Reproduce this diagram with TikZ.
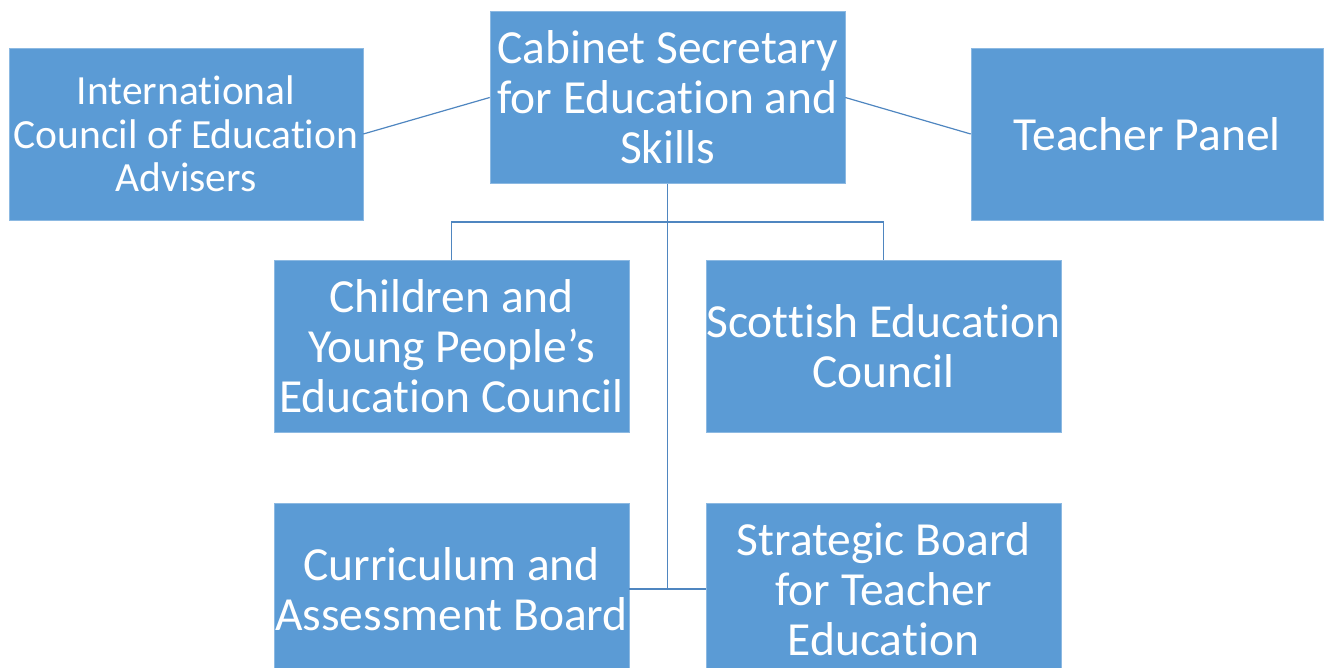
\documentclass[tikz,border=0pt]{standalone}
\usepackage{fontspec}
\setmainfont[Ligatures={NoCommon}]{Carlito}
\definecolor{boxblue}{HTML}{5B9BD5}
\definecolor{linkblue}{HTML}{4F86C0}
\begin{document}
\begin{tikzpicture}[x=1pt,y=-1pt,
  orgbox/.style={fill=boxblue, draw=boxblue!70!white, line width=0.6pt,
    minimum width=355pt, minimum height=172pt, inner sep=0pt,
    text=white, align=center, font=\fontsize{47.5}{50}\selectfont},
  smallbox/.style={orgbox, font=\fontsize{41.5}{43.5}\selectfont},
  link/.style={draw=linkblue, line width=1.2pt}]
\useasboundingbox (0,0) rectangle (1326,668);
% top row
\node[orgbox] (cab) at (667.5,97.5) {Cabinet Secretary\\for Education and\\Skills};
\node[smallbox, minimum width=354pt] (ica) at (186,134) {International\\Council of Education\\Advisers};
\node[orgbox, minimum width=352pt] (tp) at (1147,134) {Teacher Panel};
% middle row
\node[orgbox] (cyp) at (451.5,346) {Children and\\Young People’s\\Education Council};
\node[orgbox] (sec) at (883.5,346) {Scottish Education\\Council};
% bottom row
\node[orgbox] (cur) at (451.5,589) {Curriculum and\\Assessment Board};
\node[orgbox] (sbt) at (883.5,589) {Strategic Board\\for Teacher\\Education};
% connectors
\coordinate (split) at (cab.south |- 0,222);
\coordinate (low) at (cab.south |- cur.east);
\draw[link] (ica.east) -- (cab.west);
\draw[link] (cab.east) -- (tp.west);
\draw[link] (cab.south) -- (low);
\draw[link] (cyp.north) |- (split) -| (sec.north);
\draw[link] (cur.east) -- (sbt.west);
\end{tikzpicture}
\end{document}
